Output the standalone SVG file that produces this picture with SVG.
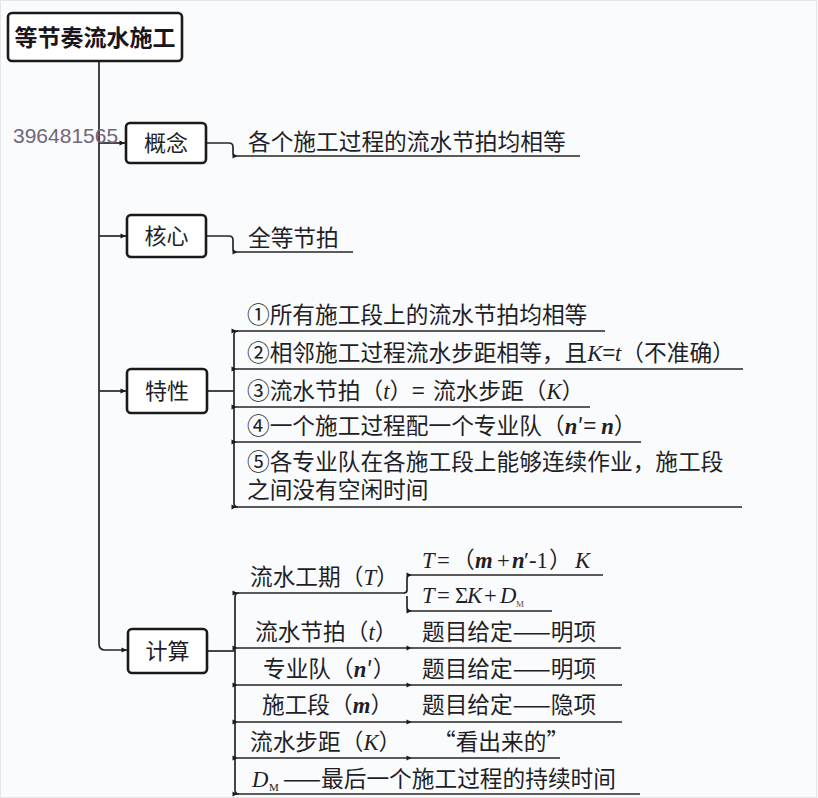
<svg xmlns="http://www.w3.org/2000/svg" width="818" height="798" viewBox="0 0 818 798">
<defs>
<style>
.t{font-family:"Noto Sans CJK SC","Noto Sans",sans-serif;font-size:22.7px;fill:#221e25}
.bt{font-family:"Noto Sans CJK SC","Noto Sans",sans-serif;font-size:22px;fill:#221e25;text-anchor:middle}
.i{font-family:"Liberation Serif",serif;font-style:italic}
.ib{font-family:"Liberation Serif",serif;font-style:italic;font-weight:bold}
.s{font-family:"Liberation Serif",serif}
.box{fill:#ffffff;stroke:#1a1a1a;stroke-width:2.6}
.ln{fill:none;stroke:#262626;stroke-width:1.7}
.ul{fill:none;stroke:#262626;stroke-width:1.7;marker-start:url(#dot)}
</style>
<marker id="dot" markerWidth="8" markerHeight="8" refX="3" refY="4" markerUnits="userSpaceOnUse" orient="auto">
<path d="M0.5,1.5 L5.5,4 L0.5,6.5 Z" fill="#1a1a1a"/>
</marker>
<marker id="arr" markerWidth="8" markerHeight="8" refX="6" refY="4" markerUnits="userSpaceOnUse" orient="auto">
<path d="M0.5,1.5 L6,4 L0.5,6.5 Z" fill="#1a1a1a"/>
</marker>
</defs>
<rect x="0" y="0" width="818" height="798" fill="#fafbfd"/>
<rect x="0.5" y="0.5" width="816" height="797" fill="none" stroke="#e4e6ea" stroke-width="1"/>

<g id="connectors">
<path class="ln" d="M99,61 V644 Q99,650 105,650 H127" marker-end="url(#arr)"/>
<path class="ln" d="M99,143 H125" marker-end="url(#arr)"/>
<path class="ln" d="M99,236 H126" marker-end="url(#arr)"/>
<path class="ln" d="M99,391 H126" marker-end="url(#arr)"/>
<path class="ln" d="M206,143 H229 Q233,143 233,147 V152 Q233,156 236,156"/>
<path class="ln" d="M206,236 H229 Q233,236 233,240 V248 Q233,252 236,252"/>
<path class="ln" d="M207,391 H234"/>
<path class="ln" d="M238,331 Q234,331 234,335 V503 Q234,507 238,507"/>
<path class="ln" d="M207,651 H235"/>
<path class="ln" d="M239,593 Q235,593 235,597 V790 Q235,794 239,794"/>
<path class="ln" d="M404,593 Q407,593 407,590 V579 Q407,575 411,575"/>
<path class="ln" d="M407,596 V607 Q407,611 411,611"/>
</g>

<g id="watermark">
<text x="13" y="143" font-family="Liberation Sans, sans-serif" font-size="21" fill="#71667c">396481565</text>
</g>

<g id="root">
<rect class="box" x="8" y="13" width="174" height="48" rx="4" stroke-width="3"/>
<text x="95" y="46" font-family="Noto Sans CJK SC, sans-serif" font-size="23" font-weight="bold" fill="#1a161c" text-anchor="middle">等节奏流水施工</text>
</g>

<g id="n-gainian">
<rect class="box" x="126" y="123" width="80" height="40" rx="4"/>
<text class="bt" x="166" y="151">概念</text>
</g>
<g id="n-gainian-1">
<path class="ul" d="M235,156 H580"/>
<text class="t" x="248" y="150">各个施工过程的流水节拍均相等</text>
</g>

<g id="n-hexin">
<rect class="box" x="127" y="215" width="79" height="42" rx="4"/>
<text class="bt" x="166.5" y="244">核心</text>
</g>
<g id="n-hexin-1">
<path class="ul" d="M235,252 H353"/>
<text class="t" x="248" y="246">全等节拍</text>
</g>

<g id="n-texing">
<rect class="box" x="127" y="369" width="80" height="44" rx="4"/>
<text class="bt" x="167" y="399">特性</text>
</g>
<g id="n-texing-1">
<path class="ul" d="M234,331 H605"/>
<text class="t" x="247" y="323">①所有施工段上的流水节拍均相等</text>
</g>
<g id="n-texing-2">
<path class="ul" d="M234,369 H743"/>
<text class="t" x="247" y="361">②相邻施工过程流水步距相等，且<tspan class="i">K</tspan>=<tspan class="i">t</tspan>（不准确）</text>
</g>
<g id="n-texing-3">
<path class="ul" d="M234,407 H590"/>
<text class="t" x="247" y="399">③流水节拍（<tspan class="i">t</tspan>）<tspan x="412">=</tspan><tspan x="433">流水步距（</tspan><tspan class="i">K</tspan>）</text>
</g>
<g id="n-texing-4">
<path class="ul" d="M234,442 H641"/>
<text class="t" x="247" y="434">④一个施工过程配一个专业队（<tspan class="ib">n</tspan>′= <tspan class="ib">n</tspan>）</text>
</g>
<g id="n-texing-5">
<path class="ul" d="M234,507 H742"/>
<text class="t" x="247" y="470">⑤各专业队在各施工段上能够连续作业，施工段</text>
<text class="t" x="247" y="498">之间没有空闲时间</text>
</g>

<g id="n-jisuan">
<rect class="box" x="128" y="629" width="79" height="44" rx="4"/>
<text class="bt" x="167.5" y="659">计算</text>
</g>
<g id="n-gongqi">
<path class="ul" d="M235,593 H405"/>
<text class="t" x="250" y="585">流水工期（<tspan class="i">T</tspan>）</text>
</g>
<g id="n-gongqi-1">
<path class="ul" d="M409,575 H603"/>
<text class="t" y="568"><tspan class="i" x="422">T</tspan><tspan class="s" x="437">=</tspan><tspan x="452">（</tspan><tspan class="ib" x="475">m</tspan><tspan class="s" x="497">+</tspan><tspan class="ib" x="512">n</tspan><tspan class="s" x="524">′-1</tspan><tspan x="549">）</tspan><tspan class="i" x="575">K</tspan></text>
</g>
<g id="n-gongqi-2">
<path class="ul" d="M409,611 H552"/>
<text class="t" y="603"><tspan class="i" x="422">T</tspan><tspan class="s" x="437">=</tspan><tspan class="s" x="455">Σ</tspan><tspan class="i" x="467">K</tspan><tspan class="s" x="484">+</tspan><tspan class="i" x="500">D</tspan></text>
<text x="516" y="607" font-family="Liberation Serif, serif" font-size="9" fill="#554f58">M</text>
</g>
<g id="n-jiepai">
<path class="ul" d="M235,648 H409"/>
<text class="t" x="255" y="640">流水节拍（<tspan class="i">t</tspan>）</text>
</g>
<g id="n-jiepai-1">
<path class="ul" d="M409,648 H621"/>
<text class="t" x="422" y="640">题目给定——明项</text>
</g>
<g id="n-zhuanye">
<path class="ul" d="M235,685 H409"/>
<text class="t" x="263" y="677">专业队（<tspan class="ib">n</tspan>′）</text>
</g>
<g id="n-zhuanye-1">
<path class="ul" d="M409,685 H622"/>
<text class="t" x="422" y="677">题目给定——明项</text>
</g>
<g id="n-shigongduan">
<path class="ul" d="M235,722 H409"/>
<text class="t" x="262" y="713">施工段（<tspan class="ib">m</tspan>）</text>
</g>
<g id="n-shigongduan-1">
<path class="ul" d="M409,722 H622"/>
<text class="t" x="422" y="713">题目给定——隐项</text>
</g>
<g id="n-buju">
<path class="ul" d="M235,758 H409"/>
<text class="t" x="250" y="750">流水步距（<tspan class="i">K</tspan>）</text>
</g>
<g id="n-buju-1">
<path class="ul" d="M409,758 H560"/>
<text class="t" x="433" y="750">“看出来的”</text>
</g>
<g id="n-dm">
<path class="ul" d="M235,794 H640"/>
<text class="t" y="787"><tspan class="i" x="252">D</tspan></text>
<text x="269" y="791" font-family="Liberation Serif, serif" font-size="11" fill="#221e25">M</text>
<text class="t" x="283" y="787">——最后一个施工过程的持续时间</text>
</g>
</svg>
